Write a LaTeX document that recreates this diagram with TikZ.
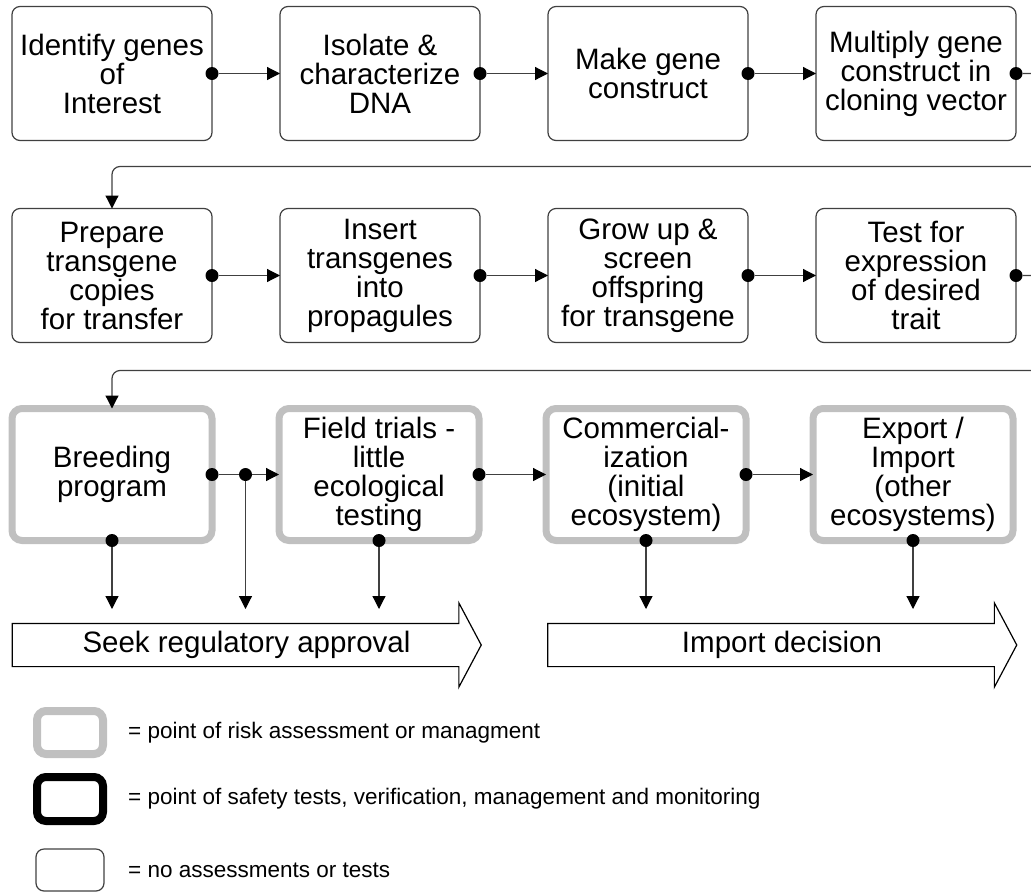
\documentclass[tikz,border=0pt]{standalone}
\usepackage{fontspec}
\setmainfont{Liberation Sans}
\usepackage{tikz}
\usetikzlibrary{shapes,arrows.meta,positioning,calc}
\definecolor{mygray}{RGB}{64,64,64}
\definecolor{myrisk}{RGB}{192,192,192}

\begin{document}
\begin{tikzpicture}[x=1pt, y=1pt,
  stepbox/.style={rectangle, rounded corners=8pt, draw=mygray, line width=1.2pt,
                  minimum width=200pt, minimum height=134pt, outer sep=0pt,
                  inner sep=0pt, align=center, font=\fontsize{29.5}{29}\selectfont},
  riskbox/.style={stepbox, draw=myrisk, line width=7pt, rounded corners=10pt,
                  minimum height=132pt},
  dot/.style={circle, fill=black, inner sep=0pt, minimum size=13pt},
  arr/.style={-{Triangle[length=13pt, width=13pt, color=black]},
              line width=1.2pt, draw=mygray},
  bigarr/.style={single arrow, draw=black, line width=1.2pt, minimum height=469pt,
                 single arrow head extend=20.5pt, single arrow tip angle=124,
                 text height=21pt, text depth=6pt, inner ysep=7.5pt, inner xsep=0pt,
                 font=\fontsize{29.5}{29}\selectfont},
  legtext/.style={font=\fontsize{22.5}{22.5}\selectfont, inner sep=0pt}
]
  \useasboundingbox (0,0) rectangle (1031,-892);

  \node[stepbox] (id) at (112,-73.5) {Identify genes\\of\\Interest};
  \node[stepbox, right=68pt of id] (iso) {Isolate \&\\characterize\\DNA};
  \node[stepbox, right=68pt of iso] (mk) {Make gene\\construct};
  \node[stepbox, right=68pt of mk] (mult) {Multiply gene\\construct in\\cloning vector};

  \node[stepbox, below=68pt of id] (prep) {Prepare\\transgene\\copies\\for transfer};
  \node[stepbox, right=68pt of prep] (ins) {Insert\\transgenes\\into\\propagules};
  \node[stepbox, right=68pt of ins] (grow) {Grow up \&\\screen\\offspring\\for transgene};
  \node[stepbox, right=68pt of grow] (test) {Test for\\expression\\of desired\\trait};

  \node[riskbox, below=66pt of prep] (breed) {Breeding\\program};
  \node[riskbox, right=67pt of breed] (field) {Field trials -\\little\\ecological\\testing};
  \node[riskbox, right=67pt of field] (comm) {Commercial-\\ization\\(initial\\ecosystem)};
  \node[riskbox, right=67pt of comm] (exp) {Export /\\Import\\(other\\ecosystems)};

  \node[bigarr] (seek) at (241,-645) {\hspace*{11pt}Seek regulatory approval};
  \node[bigarr] (imp) at (776.5,-645) {\hspace*{11pt}Import decision};
  \coordinate (tipline) at (0,-609);

  \node[dot] (d1) at (id.east) {};
  \node[dot] (d2) at (iso.east) {};
  \node[dot] (d3) at (mk.east) {};
  \node[dot] (d4) at (mult.east) {};
  \node[dot] (d5) at (prep.east) {};
  \node[dot] (d6) at (ins.east) {};
  \node[dot] (d7) at (grow.east) {};
  \node[dot] (d8) at (test.east) {};
  \node[dot] (d9) at (breed.east) {};
  \node[dot] (jn) at ($(breed.east)!0.5!(field.west)$) {};
  \node[dot] (d10) at (field.east) {};
  \node[dot] (d11) at (comm.east) {};
  \node[dot] (b1) at (breed.south) {};
  \node[dot] (b2) at (field.south) {};
  \node[dot] (b3) at (comm.south) {};
  \node[dot] (b4) at (exp.south) {};

  \draw[arr] (d1) -- (iso);
  \draw[arr] (d2) -- (mk);
  \draw[arr] (d3) -- (mult);
  \draw[arr, rounded corners=8pt] (d4) -- ++(40pt,0) |- ($(prep.north)+(0,42pt)$) -- (prep.north);
  \draw[arr] (d5) -- (ins);
  \draw[arr] (d6) -- (grow);
  \draw[arr] (d7) -- (test);
  \draw[arr, rounded corners=8pt] (d8) -- ++(40pt,0) |- ($(breed.north)+(0,38pt)$) -- (breed.north);
  \draw[line width=1.2pt, draw=mygray] (d9) -- (jn);
  \draw[arr] (jn) -- (field);
  \draw[arr] (d10) -- (comm);
  \draw[arr] (d11) -- (exp);

  \draw[arr] (b1) -- (b1 |- tipline);
  \draw[arr] (jn) -- (jn |- tipline);
  \draw[arr] (b2) -- (b2 |- tipline);
  \draw[arr] (b3) -- (b3 |- tipline);
  \draw[arr] (b4) -- (b4 |- tipline);

  \node[riskbox, minimum width=66pt, minimum height=43pt, line width=8pt,
        rounded corners=9pt] (lgrisk) at (70,-732.5) {};
  \node[stepbox, draw=black, minimum width=66pt, minimum height=44pt, line width=8pt,
        rounded corners=9pt] (lgsafe) at (70,-799) {};
  \node[stepbox, minimum width=68pt, minimum height=42pt] (lgnone) at (70,-870) {};
  \node[legtext, right=25pt of lgrisk] (lgrisktxt) {= point of risk assessment or managment};
  \node[legtext, right=25pt of lgsafe] (lgsafetxt) {= point of safety tests, verification, management and monitoring};
  \node[legtext, right=24pt of lgnone] (lgnonetxt) {= no assessments or tests};
\end{tikzpicture}
\end{document}
